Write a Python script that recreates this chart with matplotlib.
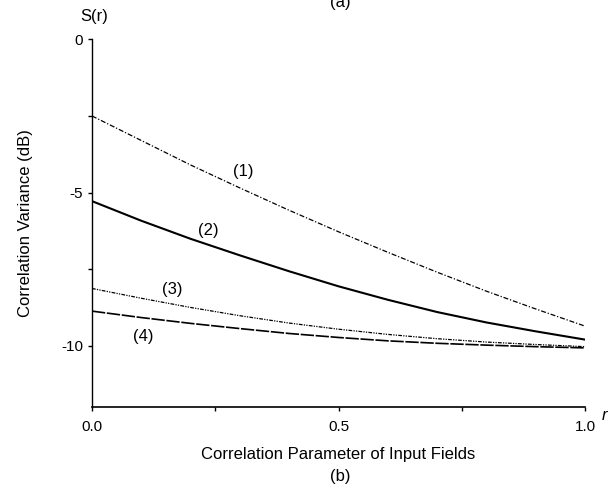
import numpy as np
import matplotlib
matplotlib.use('Agg')
import matplotlib.pyplot as plt
from matplotlib.ticker import MultipleLocator

plt.rcParams['font.family'] = ['Liberation Sans', 'DejaVu Sans']

# valores
r = [0.0, 0.1, 0.2, 0.3, 0.4, 0.5, 0.6, 0.7, 0.8, 0.9, 1.0]
s1 = [-2.50, -3.30, -4.10, -4.85, -5.58, -6.28, -6.95, -7.60, -8.22, -8.80, -9.36]
s2 = [-5.28, -5.92, -6.51, -7.05, -7.57, -8.06, -8.50, -8.90, -9.24, -9.53, -9.80]
s3 = [-8.13, -8.45, -8.75, -9.02, -9.26, -9.46, -9.63, -9.77, -9.88, -9.96, -10.03]
s4 = [-8.87, -9.08, -9.27, -9.44, -9.60, -9.73, -9.84, -9.92, -9.98, -10.03, -10.07]

rotulos = ['(1)', '(2)', '(3)', '(4)']
pos_rot = [(0.306, -4.30), (0.235, -6.25), (0.162, -8.18), (0.103, -9.69)]

fig = plt.figure(figsize=(6.12, 4.96), dpi=100)
ax = fig.add_axes([0.1503, 0.1794, 0.8057, 0.7412])

ax.plot(r, s1, color='black', lw=0.9, ls=(0, (4, 1.5, 1, 1.5)))
ax.plot(r, s2, color='black', lw=1.5, ls='-')
ax.plot(r, s3, color='black', lw=0.9, ls=(0, (3, 1, 1, 1, 1, 1)))
ax.plot(r, s4, color='black', lw=1.2, ls=(0, (8, 1)))

for txt, (x, y) in zip(rotulos, pos_rot):
    ax.text(x, y, txt, fontsize=12, ha='center', va='center')

ax.set_xlim(0, 1.0)
ax.set_ylim(-12, 0)
ax.xaxis.set_minor_locator(MultipleLocator(0.25))
ax.yaxis.set_minor_locator(MultipleLocator(2.5))
ax.set_xticks([0.0, 0.5, 1.0])
ax.set_xticklabels(['0.0', '0.5', '1.0'])
ax.set_yticks([-10, -5, 0])
ax.set_yticklabels(['-10', '-5', '0'])

ax.spines['top'].set_visible(False)
ax.spines['right'].set_visible(False)
ax.spines['left'].set_linestyle((0, (1, 1)))
ax.spines['left'].set_linewidth(1.0)
ax.spines['bottom'].set_linewidth(1.2)
ax.tick_params(which='both', direction='out', length=3, width=1, labelsize=11)
ax.tick_params(axis='x', pad=6)

ax.set_xlabel('Correlation Parameter of Input Fields', fontsize=12, labelpad=10)
ax.set_ylabel('Correlation Variance (dB)', fontsize=12, labelpad=20)

fig.text(94 / 612, 1 - 17 / 496, 'S(r)', fontsize=12, ha='center', va='center')
fig.text(604 / 612, 1 - 415 / 496, 'r', fontsize=12, style='italic', ha='center', va='center')
fig.text(340 / 612, 1 - 2 / 496, '(a)', fontsize=12, ha='center', va='center')
fig.text(340 / 612, 1 - 476 / 496, '(b)', fontsize=12, ha='center', va='center')

plt.savefig('out.png', dpi=100)
